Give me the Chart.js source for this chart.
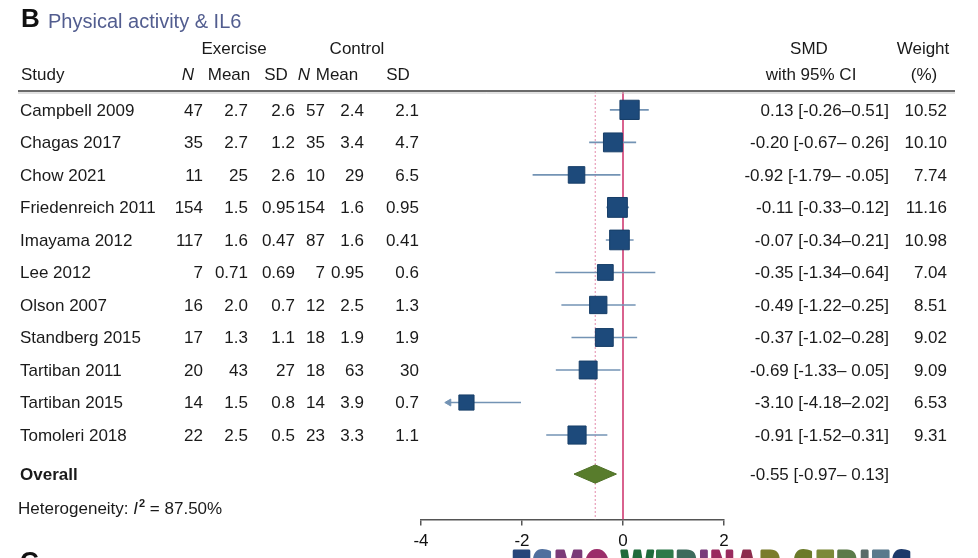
<!DOCTYPE html>
<html>
<head>
<script src="https://cdn.jsdelivr.net/npm/chart.js@4.4.0/dist/chart.umd.min.js"></script>
<style>
  body { margin: 0; background: #fff; }
  #wrap { width: 978px; height: 558px; position: relative; overflow: hidden; }
</style>
</head>
<body>
<div id="wrap"><canvas id="forest" width="978" height="558"></canvas></div>
<script>
// study rows, top to bottom
const studies = ['Campbell 2009', 'Chagas 2017', 'Chow 2021', 'Friedenreich 2011', 'Imayama 2012', 'Lee 2012',
                 'Olson 2007', 'Standberg 2015', 'Tartiban 2011', 'Tartiban 2015', 'Tomoleri 2018'];
const exN    = ['47', '35', '11', '154', '117', '7', '16', '17', '20', '14', '22'];
const exMean = ['2.7', '2.7', '25', '1.5', '1.6', '0.71', '2.0', '1.3', '43', '1.5', '2.5'];
const exSD   = ['2.6', '1.2', '2.6', '0.95', '0.47', '0.69', '0.7', '1.1', '27', '0.8', '0.5'];
const ctN    = ['57', '35', '10', '154', '87', '7', '12', '18', '18', '14', '23'];
const ctMean = ['2.4', '3.4', '29', '1.6', '1.6', '0.95', '2.5', '1.9', '63', '3.9', '3.3'];
const ctSD   = ['2.1', '4.7', '6.5', '0.95', '0.41', '0.6', '1.3', '1.9', '30', '0.7', '1.1'];

const smd   = [0.13, -0.20, -0.92, -0.11, -0.07, -0.35, -0.49, -0.37, -0.69, -3.10, -0.91];
const ciLo  = [-0.26, -0.67, -1.79, -0.33, -0.34, -1.34, -1.22, -1.02, -1.33, -4.18, -1.52];
const ciHi  = [0.51, 0.26, -0.05, 0.12, 0.21, 0.64, 0.25, 0.28, -0.05, -2.02, -0.31];
const weights = [10.52, 10.10, 7.74, 11.16, 10.98, 7.04, 8.51, 9.02, 9.09, 6.53, 9.31];
const ciLabels = ['0.13 [-0.26\u20130.51]', '-0.20 [-0.67\u2013 0.26]', '-0.92 [-1.79\u2013 -0.05]',
                  '-0.11 [-0.33\u20130.12]', '-0.07 [-0.34\u20130.21]', '-0.35 [-1.34\u20130.64]',
                  '-0.49 [-1.22\u20130.25]', '-0.37 [-1.02\u20130.28]', '-0.69 [-1.33\u2013 0.05]',
                  '-3.10 [-4.18\u20132.02]', '-0.91 [-1.52\u20130.31]'];

const overallSmd = -0.55;
const overallLo = -0.97;
const overallHi = -0.13;
const overallLabel = '-0.55 [-0.97\u2013 0.13]';
const heterogeneity = '87.50%';

const xTicks = [-4, -2, 0, 2];

// layout of rows on the y scale
const overallRow = 11.2;
const hetRow = 12.2;
const yMin = -0.58, yMax = 12.6;
const clipMin = -3.45;   // CI lines are cut here and get an arrow
const FONT = '"Liberation Sans", Arial, sans-serif';

const ciColor = '#7393b4';

const ciSets = studies.map((s, i) => ({
  data: [{ x: Math.max(ciLo[i], clipMin), y: i }, { x: ciHi[i], y: i }],
  showLine: true, borderColor: ciColor, borderWidth: 1.6, pointRadius: 0
}));

const arrows = [];
studies.forEach((s, i) => { if (ciLo[i] < clipMin) arrows.push({ x: clipMin, y: i }); });

const dh = 0.28;

const forestText = {
  id: 'forestText',
  afterDraw(chart) {
    const ctx = chart.ctx;
    const ys = chart.scales.y;
    const top = chart.chartArea.top;
    ctx.save();

    // rule under the header
    ctx.strokeStyle = '#6a6a6a';
    ctx.lineWidth = 2;
    ctx.beginPath(); ctx.moveTo(18, top); ctx.lineTo(955, top); ctx.stroke();
    ctx.strokeStyle = '#c4c4c4';
    ctx.lineWidth = 1;
    ctx.beginPath(); ctx.moveTo(18, top + 2); ctx.lineTo(955, top + 2); ctx.stroke();

    function txt(s, x, y, align, font, color, base) {
      ctx.font = font;
      ctx.fillStyle = color || '#1a1a1a';
      ctx.textAlign = align;
      ctx.textBaseline = base || 'alphabetic';
      ctx.fillText(s, x, y);
    }
    const f = '17px ' + FONT;
    const fi = 'italic 17px ' + FONT;

    // title
    txt('B', 21, 27, 'left', 'bold 26px ' + FONT, '#111');
    txt('Physical activity & IL6', 48, 28, 'left', '20px ' + FONT, '#525d8f');

    // column headers
    txt('Exercise', 234, 54, 'center', f);
    txt('Control', 357, 54, 'center', f);
    txt('SMD', 809, 54, 'center', f);
    txt('Weight', 923, 54, 'center', f);
    txt('Study', 21, 80, 'left', f);
    txt('N', 188, 80, 'center', fi);
    txt('Mean', 229, 80, 'center', f);
    txt('SD', 276, 80, 'center', f);
    txt('N', 304, 80, 'center', fi);
    txt('Mean', 337, 80, 'center', f);
    txt('SD', 398, 80, 'center', f);
    txt('with 95% CI', 811, 80, 'center', f);
    txt('(%)', 924, 80, 'center', f);

    // study rows
    studies.forEach((s, i) => {
      const y = ys.getPixelForValue(i) + 1;
      txt(s, 20, y, 'left', f, null, 'middle');
      txt(exN[i], 203, y, 'right', f, null, 'middle');
      txt(exMean[i], 248, y, 'right', f, null, 'middle');
      txt(exSD[i], 295, y, 'right', f, null, 'middle');
      txt(ctN[i], 325, y, 'right', f, null, 'middle');
      txt(ctMean[i], 364, y, 'right', f, null, 'middle');
      txt(ctSD[i], 419, y, 'right', f, null, 'middle');
      txt(ciLabels[i], 889, y, 'right', f, null, 'middle');
      txt(weights[i].toFixed(2), 947, y, 'right', f, null, 'middle');
    });

    const yo = ys.getPixelForValue(overallRow) + 1;
    txt('Overall', 20, yo, 'left', 'bold 17px ' + FONT, null, 'middle');
    txt(overallLabel, 889, yo, 'right', f, null, 'middle');

    // heterogeneity line with italic I and superscript 2
    const yh = ys.getPixelForValue(hetRow) + 7;
    ctx.textBaseline = 'alphabetic';
    ctx.textAlign = 'left';
    let x = 18;
    ctx.font = f; ctx.fillStyle = '#1a1a1a';
    ctx.fillText('Heterogeneity: ', x, yh); x += ctx.measureText('Heterogeneity: ').width;
    ctx.font = fi; ctx.fillText('I', x, yh); x += ctx.measureText('I').width + 1;
    ctx.font = 'bold 11px ' + FONT; ctx.fillText('2', x, yh - 7); x += ctx.measureText('2').width;
    ctx.font = f; ctx.fillText(' = ' + heterogeneity, x, yh);

    // next panel letter, cut by the bottom edge
    txt('C', 20, 570, 'left', 'bold 26px ' + FONT, '#111');

    // banner at the bottom, cut by the edge
    const banner = 'ESMO WEBINAR SERIES';
    const cols = ['#27467a', '#4f6f9e', '#7b3a78', '#9b2d6a', '#fff', '#1f6b3c', '#2e7a4a', '#3d6b5c', '#7a3a7a',
                  '#9a2a5e', '#8c2c4c', '#7a7c2c', '#fff', '#6b7a2a', '#7c8a3a', '#5b7a4a', '#5a6c6a', '#5a7a8c', '#1c3a6a'];
    ctx.font = 'bold 48px "Liberation Sans Narrow", "DejaVu Sans Condensed", ' + FONT;
    const w = ctx.measureText(banner).width;
    ctx.save();
    ctx.translate(511, 0);
    ctx.scale(402 / w, 1);
    ctx.lineWidth = 3;
    ctx.lineJoin = 'round';
    let bx = 0;
    for (let k = 0; k < banner.length; k++) {
      ctx.fillStyle = cols[k];
      ctx.strokeStyle = cols[k];
      ctx.fillText(banner[k], bx, 586);
      if (banner[k] !== ' ') ctx.strokeText(banner[k], bx, 586);
      bx += ctx.measureText(banner[k]).width;
    }
    ctx.restore();

    ctx.restore();
  }
};

new Chart(document.getElementById('forest'), {
  type: 'scatter',
  data: {
    datasets: [
      {
        data: studies.map((s, i) => ({ x: smd[i], y: i })),
        pointStyle: 'rect',
        pointRadius: weights.map(w => 4.2 * Math.sqrt(w)),
        backgroundColor: '#1d4a7b',
        borderColor: '#173e68',
        borderWidth: 1
      },
      {
        data: arrows,
        pointStyle: 'triangle',
        rotation: -90,
        pointRadius: 4,
        backgroundColor: ciColor,
        borderColor: ciColor
      },
      {
        data: [
          { x: overallLo, y: overallRow }, { x: overallSmd, y: overallRow - dh },
          { x: overallHi, y: overallRow }, { x: overallSmd, y: overallRow + dh },
          { x: overallLo, y: overallRow }
        ],
        showLine: true,
        fill: 'shape',
        backgroundColor: '#587c2c',
        borderColor: '#4e7026',
        borderWidth: 1,
        pointRadius: 0,
        tension: 0
      },
      ...ciSets,
      {
        data: [{ x: 0, y: yMin }, { x: 0, y: yMax }],
        showLine: true, borderColor: '#d9628e', borderWidth: 2, pointRadius: 0
      },
      {
        data: [{ x: overallSmd, y: yMin }, { x: overallSmd, y: yMax }],
        showLine: true, borderColor: '#e48aaa', borderWidth: 1, borderDash: [2, 2], pointRadius: 0
      }
    ]
  },
  options: {
    responsive: false,
    animation: false,
    devicePixelRatio: 1,
    layout: { padding: { left: 421, right: 254, top: 91, bottom: 0 } },
    plugins: { legend: { display: false }, tooltip: { enabled: false } },
    scales: {
      x: {
        type: 'linear', min: -4, max: 2,
        afterBuildTicks: axis => { axis.ticks = xTicks.map(v => ({ value: v })); },
        ticks: { color: '#111', font: { size: 17, family: FONT }, padding: 6 },
        grid: { drawOnChartArea: false, drawTicks: true, tickLength: 6, color: '#555', lineWidth: 1.5 },
        border: { color: '#555', width: 1.5 }
      },
      y: { type: 'linear', reverse: true, min: yMin, max: yMax, display: false }
    }
  },
  plugins: [forestText]
});
</script>
</body>
</html>
